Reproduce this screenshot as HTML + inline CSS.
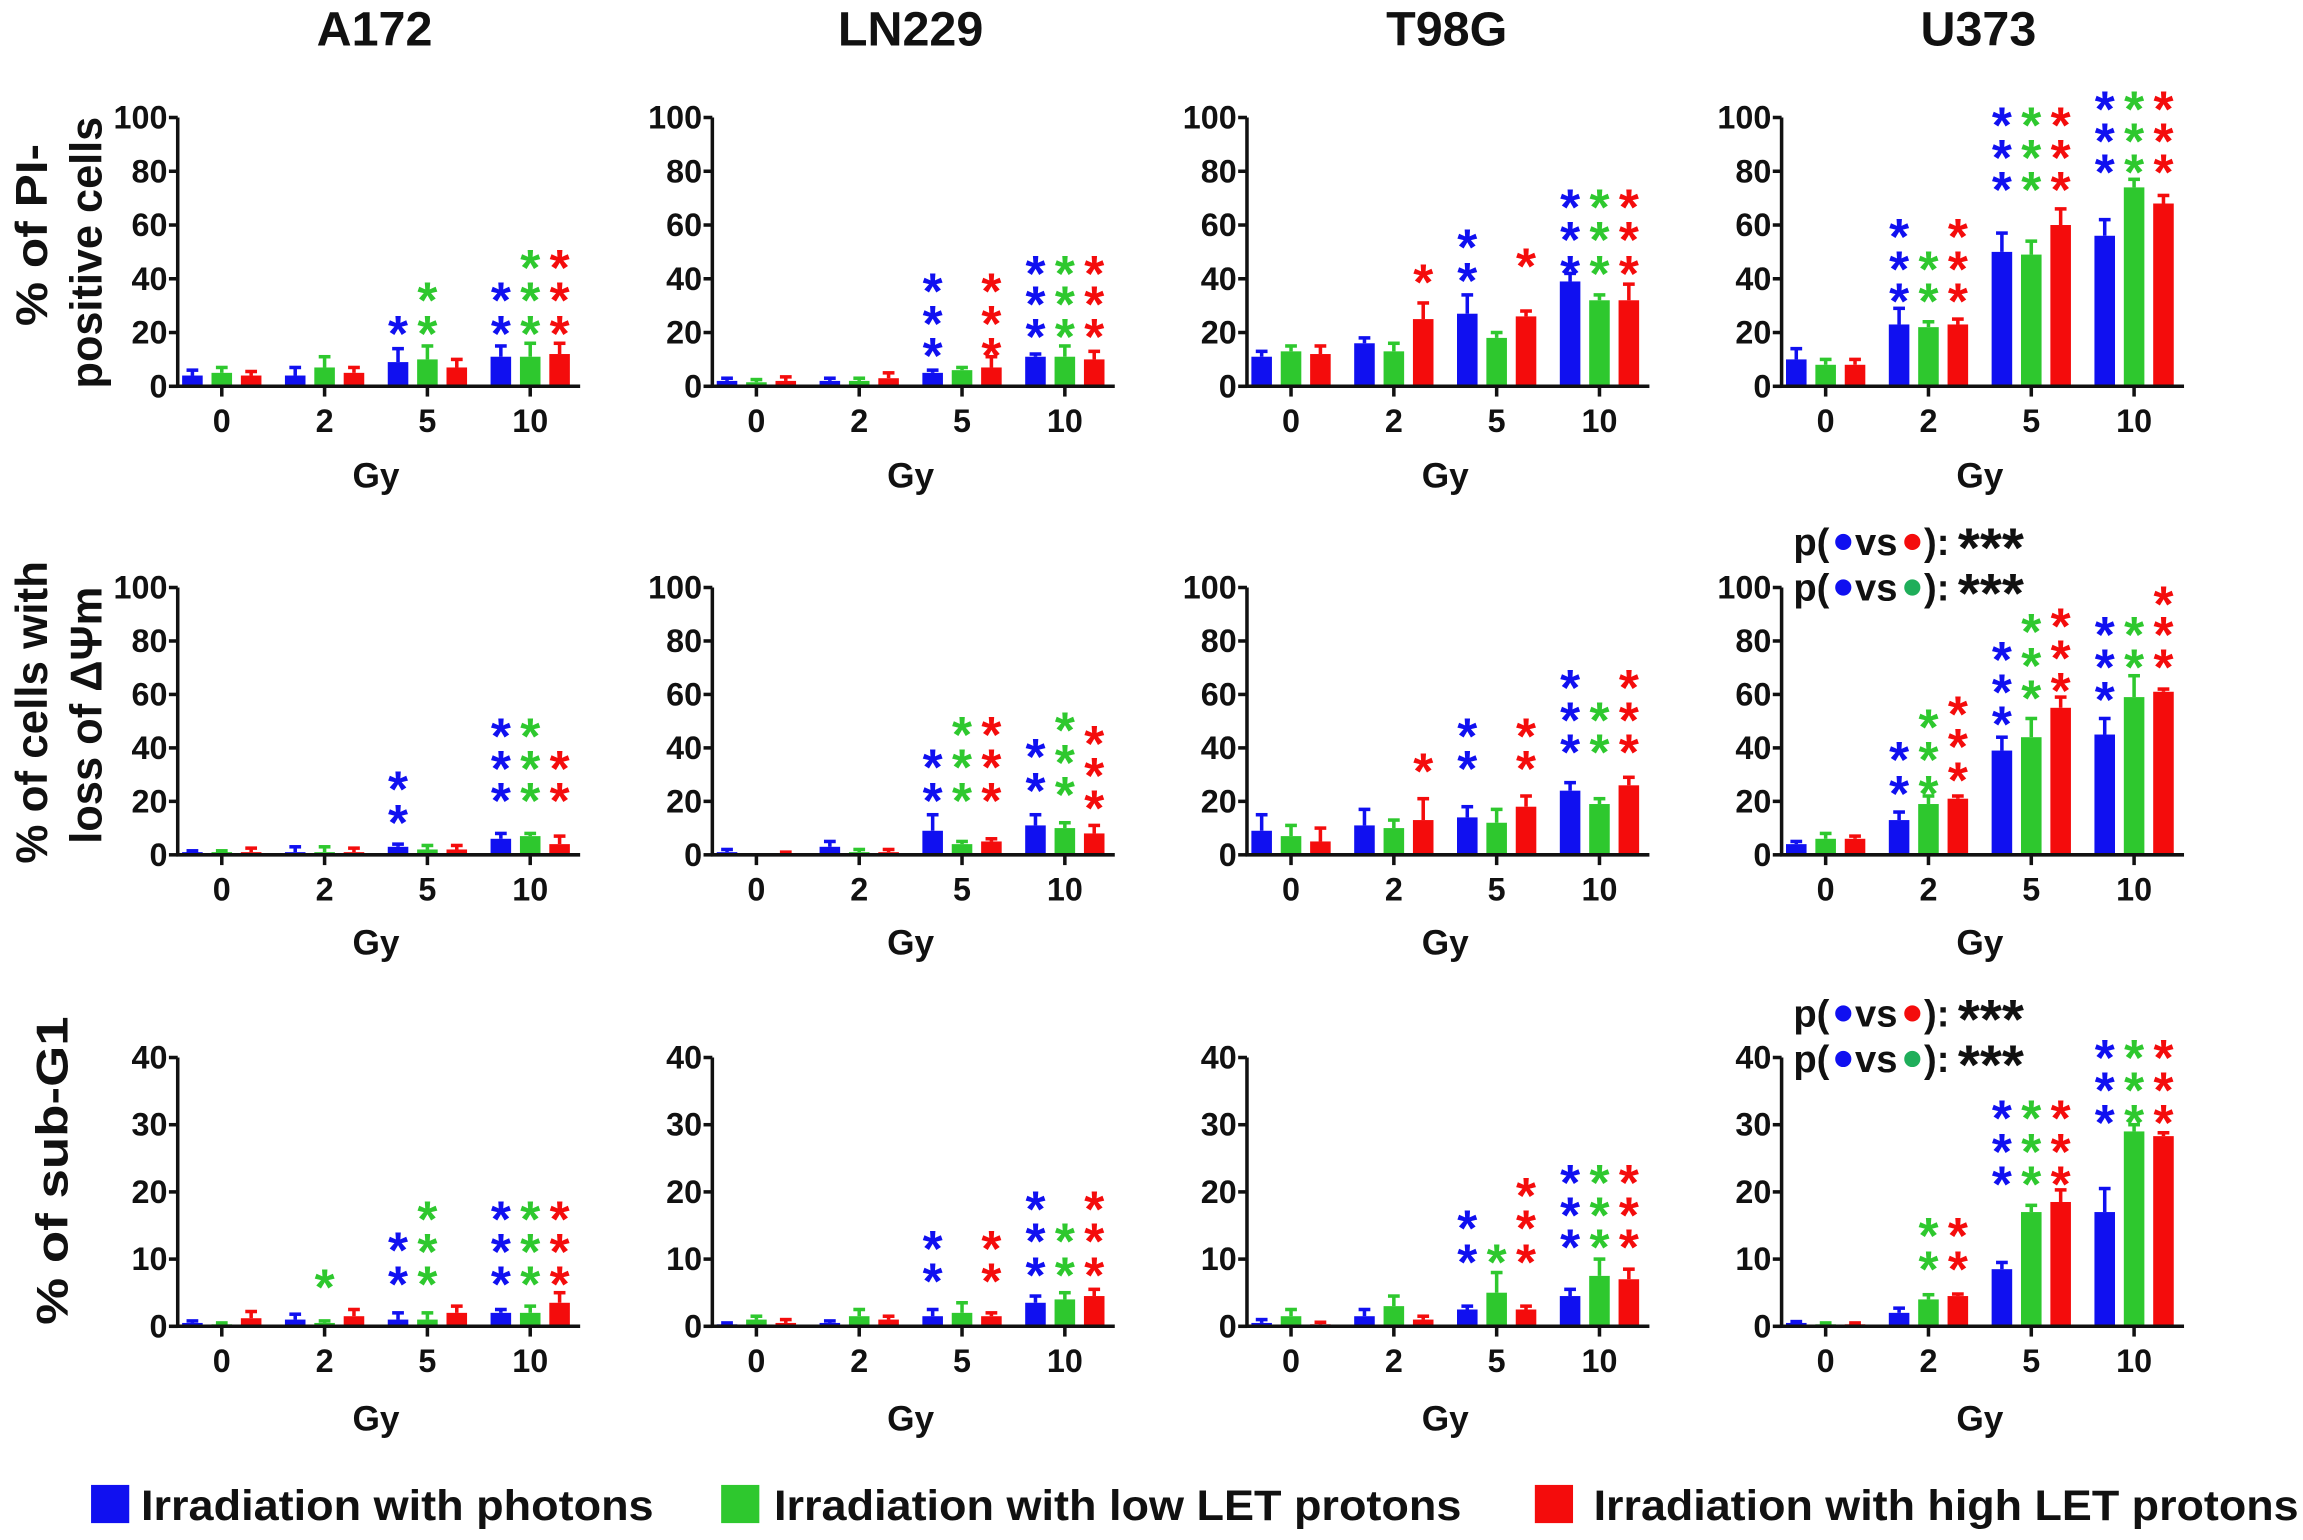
<!DOCTYPE html>
<html><head><meta charset="utf-8"><style>
html,body{margin:0;padding:0;background:#fff;}
svg{display:block;}
text{font-family:"Liberation Sans",Arial,sans-serif;font-weight:bold;fill:#111;}
</style></head><body>
<svg id="s" width="2303" height="1540" viewBox="0 0 1568 1048.5" preserveAspectRatio="none" xmlns="http://www.w3.org/2000/svg"></svg>
<script>
const S=document.getElementById('s');let h='';
const C=['#1010f0','#2ec82e','#f40c0c'];
const titles=['A172','LN229','T98G','U373'];
const titleX=[255,620,985,1347];
titles.forEach((t,i)=>{h+=`<text x="${titleX[i]}" y="31" font-size="33" text-anchor="middle">${t}</text>`;});
const rows=[{top:80,zero:263,max:100,step:20,tl:286,gy:324},{top:400,zero:582,max:100,step:20,tl:605,gy:642},{top:720,zero:903,max:40,step:10,tl:926,gy:966}];
const D=[
[
 [[[4,2],[5,2],[4,1.5]],[[4,3],[7,4],[5,2]],[[9,5],[10,5],[7,3]],[[11,4],[11,5],[12,4]]],
 [[[2,1],[1.5,1],[2,1.5]],[[2,1],[2,1],[3,2]],[[5,1],[6,1],[7,4]],[[11,1],[11,4],[10,3]]],
 [[[11,2],[13,2],[12,3]],[[16,2],[13,3],[25,6]],[[27,7],[18,2],[26,2]],[[39,3],[32,2],[32,6]]],
 [[[10,4],[8,2],[8,2]],[[23,6],[22,2],[23,2]],[[50,7],[49,5],[60,6]],[[56,6],[74,3],[68,3]]]
],[
 [[[1,.5],[1,.5],[1,1.5]],[[1,2],[1,2],[1,1.5]],[[3,1],[2,1.5],[2,1.5]],[[6,2],[7,1],[4,3]]],
 [[[1,1],[.5,0],[.5,.5]],[[3,2],[1,1],[1,1]],[[9,6],[4,1],[5,1]],[[11,4],[10,2],[8,3]]],
 [[[9,6],[7,4],[5,5]],[[11,6],[10,3],[13,8]],[[14,4],[12,5],[18,4]],[[24,3],[19,2],[26,3]]],
 [[[4,1],[6,2],[6,1]],[[13,3],[19,3],[21,1]],[[39,5],[44,7],[55,4]],[[45,6],[59,8],[61,1]]]
],[
 [[[.5,.3],[.3,.2],[1.2,1]],[[1,.8],[.5,.3],[1.5,1]],[[1,1],[1,1],[2,1]],[[2,.5],[2,1],[3.5,1.5]]],
 [[[.3,.2],[1,.5],[.5,.5]],[[.5,.3],[1.5,1],[1,.5]],[[1.5,1],[2,1.5],[1.5,.5]],[[3.5,1],[4,1],[4.5,1]]],
 [[[.5,.5],[1.5,1],[.3,.3]],[[1.5,1],[3,1.5],[1,.5]],[[2.5,.5],[5,3],[2.5,.5]],[[4.5,1],[7.5,2.5],[7,1.5]]],
 [[[.5,.2],[.3,.2],[.3,.2]],[[2,.7],[4,.7],[4.5,.3]],[[8.5,1],[17,1],[18.5,1.8]],[[17,3.5],[29,1],[28.3,.5]]]
]];
const ST=[
[0,0,2,0,[219]],[0,0,2,1,[196,219]],[0,0,3,0,[196,219]],[0,0,3,1,[174,196,219]],[0,0,3,2,[174,196,219]],
[0,1,2,0,[190,212,234]],[0,1,2,2,[190,212,234]],[0,1,3,0,[178,199,221]],[0,1,3,1,[178,199,221]],[0,1,3,2,[178,199,221]],
[0,2,1,2,[184]],[0,2,2,0,[160,183]],[0,2,2,2,[173]],[0,2,3,0,[133,155,178]],[0,2,3,1,[133,155,178]],[0,2,3,2,[133,155,178]],
[0,3,1,0,[153,175,197]],[0,3,1,1,[175,197]],[0,3,1,2,[153,175,197]],[0,3,2,0,[77,99,121]],[0,3,2,1,[77,99,121]],[0,3,2,2,[77,99,121]],[0,3,3,0,[66,88,109]],[0,3,3,1,[66,88,109]],[0,3,3,2,[66,88,109]],
[1,0,2,0,[529,552]],[1,0,3,0,[493,515,537]],[1,0,3,1,[493,515,537]],[1,0,3,2,[515,537]],
[1,1,2,0,[514,537]],[1,1,2,1,[492,514,537]],[1,1,2,2,[492,514,537]],[1,1,3,0,[507,530]],[1,1,3,1,[489,511,533]],[1,1,3,2,[498,520,542]],
[1,2,1,2,[517]],[1,2,2,0,[493,515]],[1,2,2,2,[493,515]],[1,2,3,0,[460,482,504]],[1,2,3,1,[482,504]],[1,2,3,2,[460,482,504]],
[1,3,1,0,[509,532]],[1,3,1,1,[487,509,532]],[1,3,1,2,[478,500,523]],[1,3,2,0,[441,463,485]],[1,3,2,1,[422,445,467]],[1,3,2,2,[418,440,462]],[1,3,3,0,[424,446,468]],[1,3,3,1,[424,446]],[1,3,3,2,[403,424,446]],
[2,0,1,1,[868]],[2,0,2,0,[843,866]],[2,0,2,1,[822,844,866]],[2,0,3,0,[822,844,866]],[2,0,3,1,[822,844,866]],[2,0,3,2,[822,844,866]],
[2,1,2,0,[842,864]],[2,1,2,2,[842,864]],[2,1,3,0,[815,837,860]],[2,1,3,1,[837,860]],[2,1,3,2,[815,837,860]],
[2,2,2,0,[828,851]],[2,2,2,1,[851]],[2,2,2,2,[806,828,851]],[2,2,3,0,[797,819,841]],[2,2,3,1,[797,819,841]],[2,2,3,2,[797,819,841]],
[2,3,1,1,[833,856]],[2,3,1,2,[833,856]],[2,3,2,0,[753,776,798]],[2,3,2,1,[753,776,798]],[2,3,2,2,[753,776,798]],[2,3,3,0,[712,734,756]],[2,3,3,1,[712,734,756]],[2,3,3,2,[712,734,756]]
];
const tickOff=[30,100,170,240],labs=['0','2','5','10'];
function gx(c,g,s){return 121+c*364+tickOff[g]+(s-1)*20;}
rows.forEach((r,ri)=>{
 for(let c=0;c<4;c++){
  const ax=121+c*364,sc=(r.zero-r.top)/r.max;
  D[ri][c].forEach((grp,g)=>grp.forEach(([v,e],s)=>{
   const x=gx(c,g,s),y=r.zero-v*sc,ye=y-e*sc;
   h+=`<rect x="${x-7}" y="${y}" width="14" height="${r.zero-y}" fill="${C[s]}"/>`;
   if(e>0)h+=`<line x1="${x}" y1="${y}" x2="${x}" y2="${ye}" stroke="${C[s]}" stroke-width="2.4"/><line x1="${x-4}" y1="${ye}" x2="${x+4}" y2="${ye}" stroke="${C[s]}" stroke-width="2.4"/>`;
  }));
  h+=`<line x1="${ax}" y1="${r.top}" x2="${ax}" y2="${r.zero+1}" stroke="#111" stroke-width="2.4"/>`;
  h+=`<line x1="${ax-1}" y1="${r.zero}" x2="${ax+274}" y2="${r.zero}" stroke="#111" stroke-width="2.4"/>`;
  for(let v=0;v<=r.max;v+=r.step){const y=r.zero-v*sc;
   h+=`<line x1="${ax-6}" y1="${y}" x2="${ax}" y2="${y}" stroke="#111" stroke-width="2.4"/>`;
   h+=`<text x="${ax-7}" y="${y+7.5}" font-size="22" text-anchor="end">${v}</text>`;}
  for(let g=0;g<4;g++){const x=ax+tickOff[g];
   h+=`<line x1="${x}" y1="${r.zero}" x2="${x}" y2="${r.zero+7}" stroke="#111" stroke-width="2.4"/>`;
   h+=`<text x="${x}" y="${r.tl+8}" font-size="22" text-anchor="middle">${labs[g]}</text>`;}
  h+=`<text x="${ax+135}" y="${r.gy+8}" font-size="24" text-anchor="middle">Gy</text>`;
 }
});
ST.forEach(([ri,c,g,s,ys])=>ys.forEach(y=>{h+=`<text x="${gx(c,g,s)}" y="${y+20}" font-size="35" text-anchor="middle" style="fill:${C[s]}">*</text>`;}));
function yl(x,y,t,L){h+=`<text transform="translate(${x},${y}) rotate(-90)" font-size="30" text-anchor="middle" textLength="${L}" lengthAdjust="spacingAndGlyphs">${t}</text>`;}
yl(32,160,'% of PI-',124);yl(69,172,'positive cells',185);
yl(32,485,'% of cells with',206);yl(69,487,'loss of ΔΨm',175);
yl(46,797,'% of sub-G1',210);
function ann(y,c2){
 h+=`<text x="1221" y="${y+9}" font-size="26">p(</text>`;
 h+=`<circle cx="1255" cy="${y}" r="5.5" fill="${C[0]}"/>`;
 h+=`<text x="1263" y="${y+9}" font-size="26">vs</text>`;
 h+=`<circle cx="1302" cy="${y}" r="5.5" fill="${c2}"/>`;
 h+=`<text x="1310" y="${y+9}" font-size="26">):</text>`;
 h+=`<text x="1333" y="${y+17}" font-size="38" textLength="45" lengthAdjust="spacingAndGlyphs">***</text>`;
}
ann(369,C[2]);ann(400,'#1fae5a');ann(690,C[2]);ann(721,'#1fae5a');
[[62,96,'Irradiation with photons',349],[491,527,'Irradiation with low LET protons',468],[1045,1085,'Irradiation with high LET protons',480]].forEach(([sx,tx,t,L],i)=>{
 h+=`<rect x="${sx}" y="1011" width="26" height="26" fill="${C[i]}"/>`;
 h+=`<text x="${tx}" y="1035" font-size="29" textLength="${L}" lengthAdjust="spacingAndGlyphs">${t}</text>`;
});
S.innerHTML=h;
</script>
</body></html>
